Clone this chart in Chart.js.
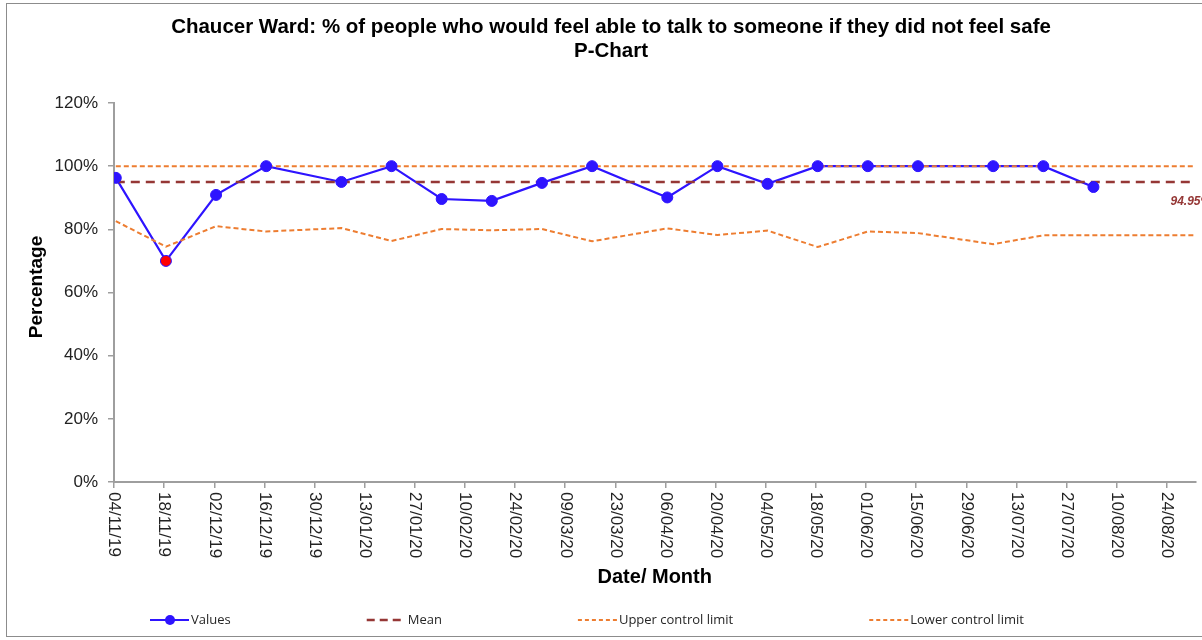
<!DOCTYPE html>
<html>
<head>
<meta charset="utf-8">
<script src="https://cdn.jsdelivr.net/npm/chart.js@4.4.1/dist/chart.umd.min.js"></script>
<style>
  html, body { margin: 0; padding: 0; background: #fff; }
  #wrap { width: 1202px; height: 640px; }
</style>
</head>
<body>
<div id="wrap"><canvas id="pChart" width="1202" height="640"></canvas></div>
<script>
// sample dates (dd/mm/yy) and % values
const sampleDates = ['04/11/19', '18/11/19', '02/12/19', '16/12/19', '06/01/20', '20/01/20', '03/02/20',
    '17/02/20', '02/03/20', '16/03/20', '06/04/20', '20/04/20', '04/05/20', '18/05/20', '01/06/20',
    '15/06/20', '06/07/20', '20/07/20', '03/08/20'];
const percentValues = [96.3, 70.0, 90.9, 100, 95.0, 100, 89.6, 89.0, 94.7, 100, 90.1, 100, 94.4, 100, 100,
    100, 100, 100, 93.4];

// control limits run two rows past the last sample
const extraLimitDates = ['17/08/20', '31/08/20'];
const lowerLimit = [82.6, 74.5, 81.0, 79.3, 80.4, 76.3, 80.1, 79.7, 80.1, 76.2, 80.3, 78.2, 79.6, 74.4, 79.3,
    78.8, 75.3, 78.1, 78.1, 78.1, 78.1];
const upperLimit = [100, 100, 100, 100, 100, 100, 100, 100, 100, 100, 100, 100, 100, 100, 100,
    100, 100, 100, 100, 100, 100];
const meanValue = 94.95;

const tickDates = ['04/11/19', '18/11/19', '02/12/19', '16/12/19', '30/12/19', '13/01/20', '27/01/20',
    '10/02/20', '24/02/20', '09/03/20', '23/03/20', '06/04/20', '20/04/20', '04/05/20', '18/05/20',
    '01/06/20', '15/06/20', '29/06/20', '13/07/20', '27/07/20', '10/08/20', '24/08/20'];
const axisEndDate = '01/09/20';

const BLUE = '#2e14ff';
const ORANGE = '#ed7d31';
const DARKRED = '#953735';
const AXIS = '#9e9e9e';
const FONT = '"Liberation Sans", Arial, sans-serif';

function dayOf(s) {
    const [d, m, y] = s.split('/').map(Number);
    return (Date.UTC(2000 + y, m - 1, d) - Date.UTC(2019, 10, 4)) / 86400000;
}
// excel puts each point in the middle of its day
const pos = s => dayOf(s) + 0.5;

const limitDates = sampleDates.concat(extraLimitDates);
const valuePoints = sampleDates.map((d, i) => ({ x: pos(d), y: percentValues[i] }));
const lclPoints = limitDates.map((d, i) => ({ x: pos(d), y: lowerLimit[i] }));
const uclPoints = limitDates.map((d, i) => ({ x: pos(d), y: upperLimit[i] }));
const meanPoints = [
    { x: pos(limitDates[0]), y: meanValue },
    { x: pos(limitDates[limitDates.length - 1]), y: meanValue }
];

const legendItems = [
    { text: 'Values', color: BLUE, dash: [], width: 2, marker: true },
    { text: 'Mean', color: DARKRED, dash: [8, 5], width: 2.5 },
    { text: 'Upper control limit', color: ORANGE, dash: [4, 3], width: 2 },
    { text: 'Lower control limit', color: ORANGE, dash: [4, 3], width: 2 }
];

const decorPlugin = {
    id: 'decor',
    afterDraw(chart) {
        const { ctx, chartArea } = chart;
        const xs = chart.scales.x;
        const ys = chart.scales.y;
        ctx.save();

        // frame
        ctx.strokeStyle = '#8c8c8c';
        ctx.lineWidth = 1;
        ctx.strokeRect(6.5, 3.5, 1300, 633);

        // title
        ctx.fillStyle = '#000';
        ctx.textAlign = 'center';
        ctx.textBaseline = 'middle';
        ctx.font = 'bold 20.5px ' + FONT;
        ctx.fillText('Chaucer Ward: % of people who would feel able to talk to someone if they did not feel safe', 611, 27);
        ctx.fillText('P-Chart', 611, 51);

        // y axis title
        ctx.save();
        ctx.translate(37, 287);
        ctx.rotate(-Math.PI / 2);
        ctx.font = 'bold 19px ' + FONT;
        ctx.fillText('Percentage', 0, 0);
        ctx.restore();

        // x tick labels, reading top to bottom
        ctx.font = '17px ' + FONT;
        ctx.fillStyle = '#222';
        ctx.textAlign = 'left';
        xs.ticks.forEach((t, i) => {
            ctx.save();
            ctx.translate(xs.getPixelForValue(t.value), chartArea.bottom + 10);
            ctx.rotate(Math.PI / 2);
            ctx.fillText(tickDates[i], 0, 0);
            ctx.restore();
        });

        // mean label at the right edge
        ctx.font = 'italic bold 12px ' + FONT;
        ctx.fillStyle = DARKRED;
        ctx.textBaseline = 'alphabetic';
        ctx.fillText(meanValue.toFixed(2) + '%', chartArea.right - 25, ys.getPixelForValue(meanValue) + 23);

        // legend
        ctx.font = '13px "Open Sans", ' + FONT;
        ctx.textBaseline = 'middle';
        let lx = 150;
        const ly = 620;
        legendItems.forEach(item => {
            ctx.strokeStyle = item.color;
            ctx.lineWidth = item.width;
            ctx.setLineDash(item.dash);
            ctx.beginPath();
            ctx.moveTo(lx, ly);
            ctx.lineTo(lx + 39, ly);
            ctx.stroke();
            ctx.setLineDash([]);
            if (item.marker) {
                ctx.fillStyle = item.color;
                ctx.beginPath();
                ctx.arc(lx + 20, ly, 5, 0, Math.PI * 2);
                ctx.fill();
            }
            ctx.fillStyle = '#262626';
            ctx.fillText(item.text, lx + 41, ly);
            lx += 41 + ctx.measureText(item.text).width + 136;
        });

        ctx.restore();
    }
};

new Chart(document.getElementById('pChart'), {
    type: 'line',
    data: {
        datasets: [
            {
                label: 'Values line',
                data: valuePoints,
                borderColor: BLUE,
                borderWidth: 2.2,
                pointRadius: 0,
                tension: 0,
                order: 3
            },
            {
                label: 'Mean',
                data: meanPoints,
                borderColor: DARKRED,
                borderWidth: 2.5,
                borderDash: [9, 6],
                pointRadius: 0,
                order: 2
            },
            {
                label: 'Lower control limit',
                data: lclPoints,
                borderColor: ORANGE,
                borderWidth: 2,
                borderDash: [5, 3],
                pointRadius: 0,
                tension: 0,
                order: 2
            },
            {
                label: 'Upper control limit',
                data: uclPoints,
                borderColor: ORANGE,
                borderWidth: 2,
                borderDash: [5, 3],
                pointRadius: 0,
                order: 1
            },
            {
                label: 'Values',
                data: valuePoints,
                showLine: false,
                pointRadius: 5.5,
                pointBorderWidth: 1,
                pointBorderColor: BLUE,
                pointBackgroundColor: ctx => {
                    const i = ctx.dataIndex;
                    return percentValues[i] < lowerLimit[i] ? '#ff0000' : BLUE;
                },
                order: 0
            }
        ]
    },
    options: {
        responsive: false,
        animation: false,
        devicePixelRatio: 1,
        layout: { padding: { top: 103, right: 5, bottom: 0, left: 0 } },
        plugins: {
            legend: { display: false },
            tooltip: { enabled: false },
            title: { display: false }
        },
        scales: {
            x: {
                type: 'linear',
                min: 0,
                max: dayOf(axisEndDate),
                afterBuildTicks: scale => {
                    scale.ticks = tickDates.map(d => ({ value: dayOf(d) }));
                },
                afterFit: scale => { scale.height = 158; },
                ticks: { display: false },
                grid: { display: true, drawOnChartArea: false, drawTicks: true, tickLength: 6, color: AXIS, lineWidth: 1.5 },
                border: { color: AXIS, width: 2 },
                title: {
                    display: true,
                    text: 'Date/ Month',
                    color: '#000',
                    font: { family: FONT, size: 20, weight: 'bold' },
                    padding: { top: 0, bottom: 51 }
                }
            },
            y: {
                min: 0,
                max: 120,
                afterFit: scale => { scale.width = 114; },
                ticks: {
                    stepSize: 20,
                    padding: 10,
                    color: '#222',
                    font: { family: FONT, size: 17 },
                    callback: v => v + '%'
                },
                grid: { display: true, drawOnChartArea: false, drawTicks: true, tickLength: 6, color: AXIS, lineWidth: 1.5 },
                border: { color: AXIS, width: 2 }
            }
        }
    },
    plugins: [decorPlugin]
});
</script>
</body>
</html>
